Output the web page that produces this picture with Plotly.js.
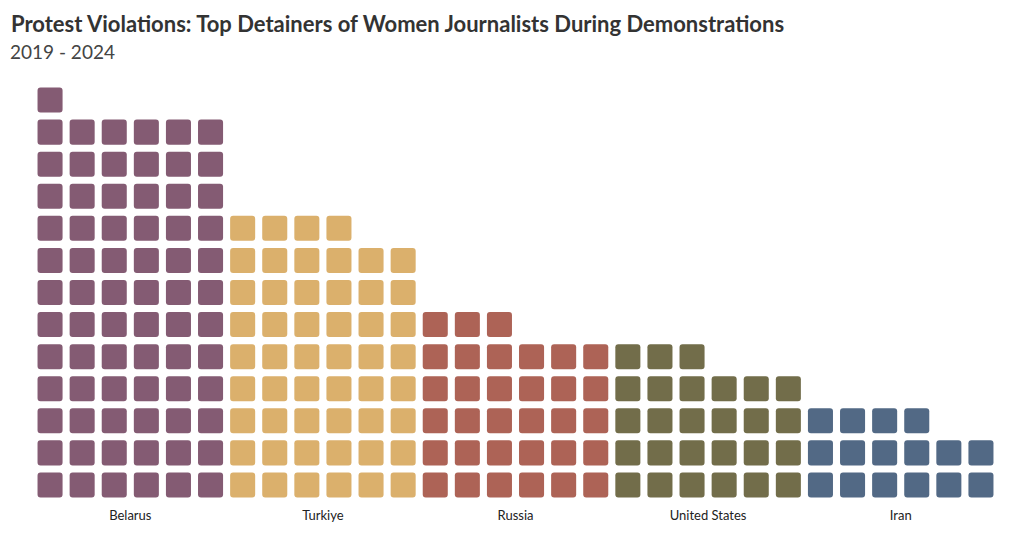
<!DOCTYPE html>
<html>
<head>
<meta charset="utf-8">
<script src="https://cdn.plot.ly/plotly-3.0.1.min.js"></script>
<style>html,body{margin:0;padding:0;background:#fff;}#chart{width:1020px;height:540px;}</style>
</head>
<body>
<div id="chart"></div>
<script>
// Data
const countries = ["Belarus", "Turkiye", "Russia", "United States", "Iran"];
const detentions = [73, 52, 33, 27, 16];
const colors = ["#845b73", "#dbb06c", "#ad6356", "#726d4a", "#526985"];
const colsPerCountry = 6;
const titleText = "Protest Violations: Top Detainers of Women Journalists During Demonstrations";
const subtitleText = "2019 - 2024";

const FONT = "Lato, 'Open Sans', sans-serif";

const traces = countries.map((c, ci) => {
  const xs = [], bases = [], ys = [];
  for (let k = 0; k < detentions[ci]; k++) {
    const col = ci * colsPerCountry + (k % colsPerCountry);
    const row = Math.floor(k / colsPerCountry);
    xs.push(col);
    bases.push(row - 0.39);
    ys.push(0.78);
  }
  return {
    type: "bar",
    name: c,
    x: xs,
    y: ys,
    base: bases,
    width: 0.78,
    marker: { color: colors[ci], cornerradius: 3, line: { width: 0 } },
    hovertemplate: c + ": " + detentions[ci] + "<extra></extra>",
    showlegend: false
  };
});

const tickvals = countries.map((c, ci) => ci * colsPerCountry + (colsPerCountry - 1) / 2);

const layout = {
  width: 1020,
  height: 540,
  paper_bgcolor: "#ffffff",
  plot_bgcolor: "#ffffff",
  barmode: "overlay",
  margin: { l: 34, r: 23, t: 84, b: 39 },
  title: {
    text: "<b>" + titleText + "</b>",
    font: { family: FONT, size: 22, color: "#333333" },
    x: 0.0108, xanchor: "left", xref: "container",
    y: 0.955, yanchor: "middle", yref: "container"
  },
  annotations: [{
    text: subtitleText,
    xref: "paper", yref: "paper",
    x: -0.0272, y: 1.079, xanchor: "left", yanchor: "middle",
    showarrow: false,
    font: { family: FONT, size: 19, color: "#444444" }
  }],
  xaxis: {
    range: [-0.5, 29.5],
    showgrid: false, zeroline: false, showline: false,
    tickmode: "array", tickvals: tickvals, ticktext: countries,
    ticks: "", ticklabelstandoff: 5,
    tickfont: { family: FONT, size: 13, color: "#222222" },
    fixedrange: true
  },
  yaxis: {
    range: [-0.5, 12.5],
    showgrid: false, zeroline: false, showline: false, showticklabels: false,
    fixedrange: true
  },
  font: { family: FONT }
};

Plotly.newPlot("chart", traces, layout, { displayModeBar: false });
</script>
</body>
</html>
